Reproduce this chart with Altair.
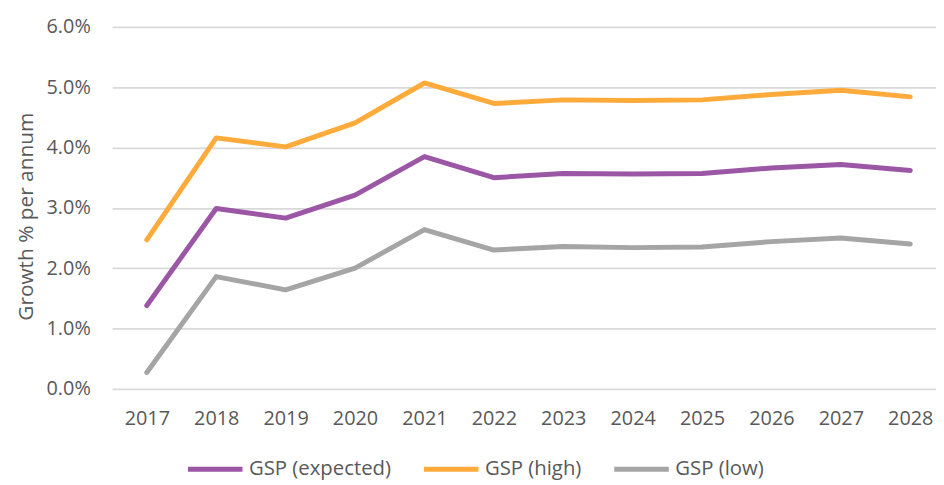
import altair as alt
import pandas as pd

years = [2017, 2018, 2019, 2020, 2021, 2022, 2023, 2024, 2025, 2026, 2027, 2028]
gsp_expected = [1.38, 2.99, 2.83, 3.21, 3.85, 3.50, 3.57, 3.56, 3.57, 3.66, 3.72, 3.62]
gsp_high = [2.47, 4.16, 4.01, 4.41, 5.07, 4.73, 4.79, 4.78, 4.79, 4.88, 4.95, 4.84]
gsp_low = [0.27, 1.86, 1.64, 2.00, 2.64, 2.30, 2.36, 2.34, 2.35, 2.44, 2.50, 2.40]
series_names = ["GSP (expected)", "GSP (high)", "GSP (low)"]
series_colors = ["#9B57A5", "#FFAB3C", "#A5A5A5"]
y_ticks = [0.0, 0.01, 0.02, 0.03, 0.04, 0.05, 0.06]

rows = []
for name, vals in zip(series_names, [gsp_expected, gsp_high, gsp_low]):
    for yr, v in zip(years, vals):
        rows.append({"Year": yr, "Growth": v / 100.0, "Series": name})
df = pd.DataFrame(rows)

FONT = "Open Sans"
TXT = "#595959"

chart = alt.Chart(df).mark_line(strokeWidth=5, strokeCap="round", strokeJoin="round").encode(
    x=alt.X("Year:Q",
            scale=alt.Scale(domain=[2016.5, 2028.371], nice=False, zero=False),
            axis=alt.Axis(values=years, format="d", grid=False, ticks=False, domain=False,
                          labelPadding=20, labelFontSize=20, labelFont=FONT, labelColor=TXT,
                          title=None)),
    y=alt.Y("Growth:Q",
            scale=alt.Scale(domain=[0, 0.06], nice=False),
            axis=alt.Axis(values=y_ticks, format=".1%", grid=True, gridColor="#D9D9D9",
                          gridWidth=1.8, ticks=False, domain=False, labelPadding=22,
                          labelFontSize=20, labelFont=FONT, labelColor=TXT,
                          title="Growth % per annum", titleFont=FONT, titleFontSize=21,
                          titleFontWeight="normal", titleColor=TXT, titleX=-76, titleY=191)),
    color=alt.Color("Series:N",
                    scale=alt.Scale(domain=series_names, range=series_colors),
                    sort=series_names,
                    legend=alt.Legend(title=None, orient="none", legendX=74, legendY=416,
                                      direction="horizontal", columns=3,
                                      symbolType="stroke", symbolSize=3025, symbolStrokeWidth=5,
                                      labelFont=FONT, labelFontSize=20.5, labelColor=TXT,
                                      labelOffset=4, columnPadding=22)),
    order=alt.Order("Year:Q"),
).properties(
    width=831, height=365,
    autosize=alt.AutoSizeParams(type="none"),
    padding={"left": 105, "top": 17, "right": 0, "bottom": 95},
).configure(background="white").configure_view(stroke=None)

chart.save("out.html", embed_options={"renderer": "svg", "actions": False})
